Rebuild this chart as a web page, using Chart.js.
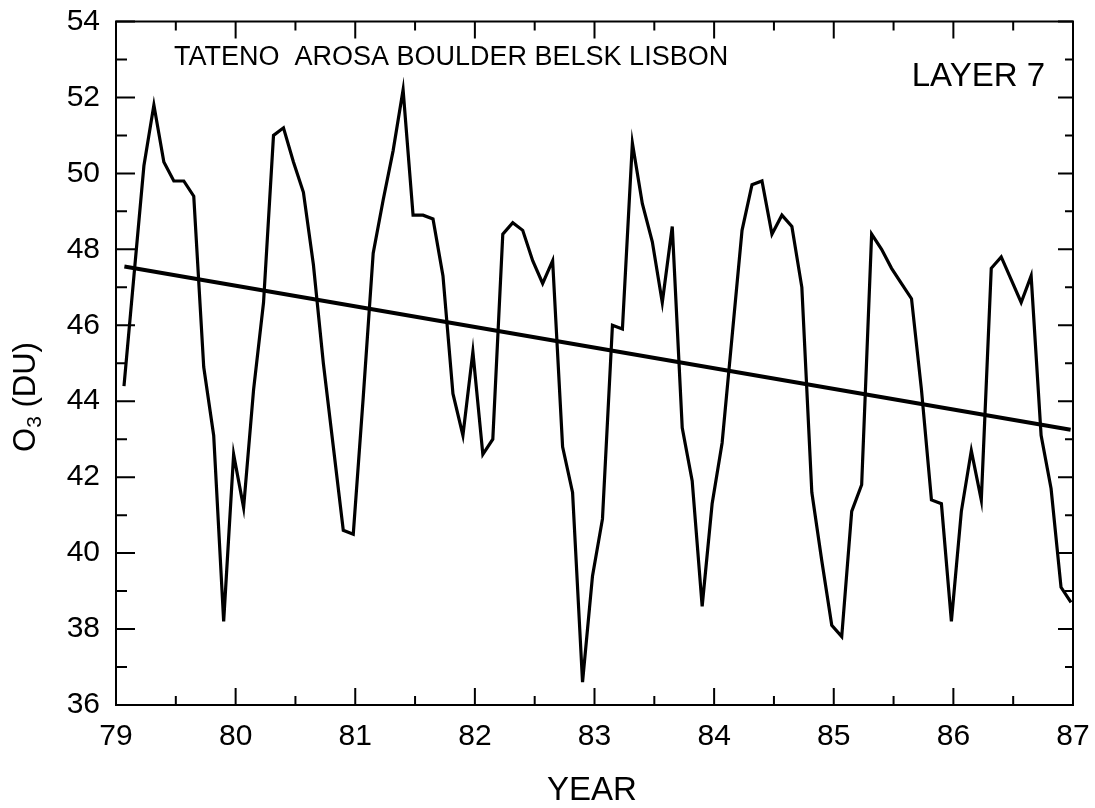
<!DOCTYPE html>
<html>
<head>
<meta charset="utf-8">
<script src="https://cdn.jsdelivr.net/npm/chart.js@4"></script>
<style>
  body { margin: 0; background: #fff; }
  .wrap { width: 1095px; height: 808px; }
</style>
</head>
<body>
<div class="wrap"><canvas id="c"></canvas></div>
<script>
// monthly layer-7 ozone (DU), Jan 1979 .. Dec 1986
const startYear = 79;
const o3Values = [
  44.4, 47.3, 50.2, 51.8, 50.3, 49.8, 49.8, 49.4, 44.9, 43.1, 38.2, 42.6,
  41.2, 44.3, 46.6, 51.0, 51.2, 50.3, 49.5, 47.6, 45.0, 42.8, 40.6, 40.5,
  44.1, 47.9, 49.3, 50.6, 52.2, 48.9, 48.9, 48.8, 47.3, 44.2, 43.1, 45.3,
  42.6, 43.0, 48.4, 48.7, 48.5, 47.7, 47.1, 47.7, 42.8, 41.6, 36.6, 39.4,
  40.9, 46.0, 45.9, 50.8, 49.2, 48.2, 46.6, 48.6, 43.3, 41.9, 38.6, 41.3,
  42.9, 45.7, 48.5, 49.7, 49.8, 48.4, 48.9, 48.6, 47.0, 41.6, 39.8, 38.1,
  37.8, 41.1, 41.8, 48.4, 48.0, 47.5, 47.1, 46.7, 44.3, 41.4, 41.3, 38.2,
  41.1, 42.7, 41.4, 47.5, 47.8, 47.2, 46.6, 47.3, 43.1, 41.7, 39.1, 38.7
];
// fitted trend, end points
const trendYears = [79.07, 86.98];
const trendValues = [47.55, 43.25];

const yearTicks = [79, 80, 81, 82, 83, 84, 85, 86, 87];
const o3Ticks = [36, 38, 40, 42, 44, 46, 48, 50, 52, 54];

const siteText = 'TATENO  AROSA BOULDER BELSK LISBON';
const layerText = 'LAYER 7';
const xTitle = 'YEAR';

const monthly = o3Values.map((v, i) => ({ x: startYear + (i + 0.8) / 12, y: v }));
const trend = trendYears.map((x, i) => ({ x: x, y: trendValues[i] }));

const FONT = '"Liberation Sans", Arial, Helvetica, sans-serif';

// frame, inward ticks and texts
const framePlugin = {
  id: 'frame',
  beforeDraw(chart) {
    const c = chart.ctx;
    c.save();
    c.fillStyle = '#fff';
    c.fillRect(0, 0, chart.width, chart.height);
    c.restore();
  },
  afterDraw(chart) {
    const c = chart.ctx;
    const a = chart.chartArea;
    const xs = chart.scales.x, ys = chart.scales.y;
    c.save();
    c.strokeStyle = '#000';
    c.lineWidth = 2;
    c.strokeRect(a.left, a.top, a.right - a.left, a.bottom - a.top);
    c.beginPath();
    for (let v = 79; v <= 87; v += 0.5) {
      const px = xs.getPixelForValue(v);
      const len = Number.isInteger(v) ? 17 : 9;
      c.moveTo(px, a.bottom); c.lineTo(px, a.bottom - len);
      c.moveTo(px, a.top); c.lineTo(px, a.top + len);
    }
    for (let v = 36; v <= 54; v += 1) {
      const py = ys.getPixelForValue(v);
      const len = v % 2 === 0 ? 19 : 11;
      const rlen = v % 2 === 0 ? 15 : 8;
      c.moveTo(a.left, py); c.lineTo(a.left + len, py);
      c.moveTo(a.right, py); c.lineTo(a.right - rlen, py);
    }
    c.stroke();

    c.fillStyle = '#000';
    c.textBaseline = 'alphabetic';
    c.font = '27px ' + FONT;
    c.textAlign = 'left';
    c.fillText(siteText, 174, 65);
    c.font = '33px ' + FONT;
    c.textAlign = 'right';
    c.fillText(layerText, 1045, 86);

    c.font = '33px ' + FONT;
    c.textAlign = 'center';
    c.fillText(xTitle, 592, 800);

    // y title with subscript
    c.translate(35, 397);
    c.rotate(-Math.PI / 2);
    const p1 = 'O', p2 = '3', p3 = ' (DU)';
    c.font = '31px ' + FONT;
    const w1 = c.measureText(p1).width, w3 = c.measureText(p3).width;
    c.font = '21px ' + FONT;
    const w2 = c.measureText(p2).width;
    let x0 = -(w1 + w2 + w3) / 2;
    c.textAlign = 'left';
    c.font = '31px ' + FONT;
    c.fillText(p1, x0, 0);
    c.font = '21px ' + FONT;
    c.fillText(p2, x0 + w1, 6);
    c.font = '31px ' + FONT;
    c.fillText(p3, x0 + w1 + w2, 0);
    c.restore();
  }
};

new Chart(document.getElementById('c'), {
  type: 'scatter',
  data: {
    datasets: [
      {
        label: 'O3',
        data: monthly,
        showLine: true,
        borderColor: '#000',
        borderWidth: 3.2,
        pointRadius: 0,
        tension: 0
      },
      {
        label: 'trend',
        data: trend,
        showLine: true,
        borderColor: '#000',
        borderWidth: 4,
        pointRadius: 0
      }
    ]
  },
  options: {
    responsive: true,
    maintainAspectRatio: false,
    animation: false,
    devicePixelRatio: 1,
    layout: { padding: { top: 21.5, right: 22, left: 0, bottom: 0 } },
    plugins: { legend: { display: false }, tooltip: { enabled: false } },
    scales: {
      x: {
        type: 'linear',
        min: 79, max: 87,
        afterBuildTicks(s) { s.ticks = yearTicks.map(v => ({ value: v })); },
        afterFit(s) { s.height = 103; s.paddingLeft = 0; s.paddingRight = 0; },
        grid: { display: false, drawTicks: false },
        border: { display: false },
        ticks: { color: '#000', padding: 14, font: { family: FONT, size: 30 } }
      },
      y: {
        type: 'linear',
        min: 36, max: 54,
        afterBuildTicks(s) { s.ticks = o3Ticks.map(v => ({ value: v })); },
        afterFit(s) { s.width = 116; s.paddingTop = 0; s.paddingBottom = 0; },
        grid: { display: false, drawTicks: false },
        border: { display: false },
        ticks: { color: '#000', padding: 16, font: { family: FONT, size: 30 } }
      }
    }
  },
  plugins: [framePlugin]
});
</script>
</body>
</html>
